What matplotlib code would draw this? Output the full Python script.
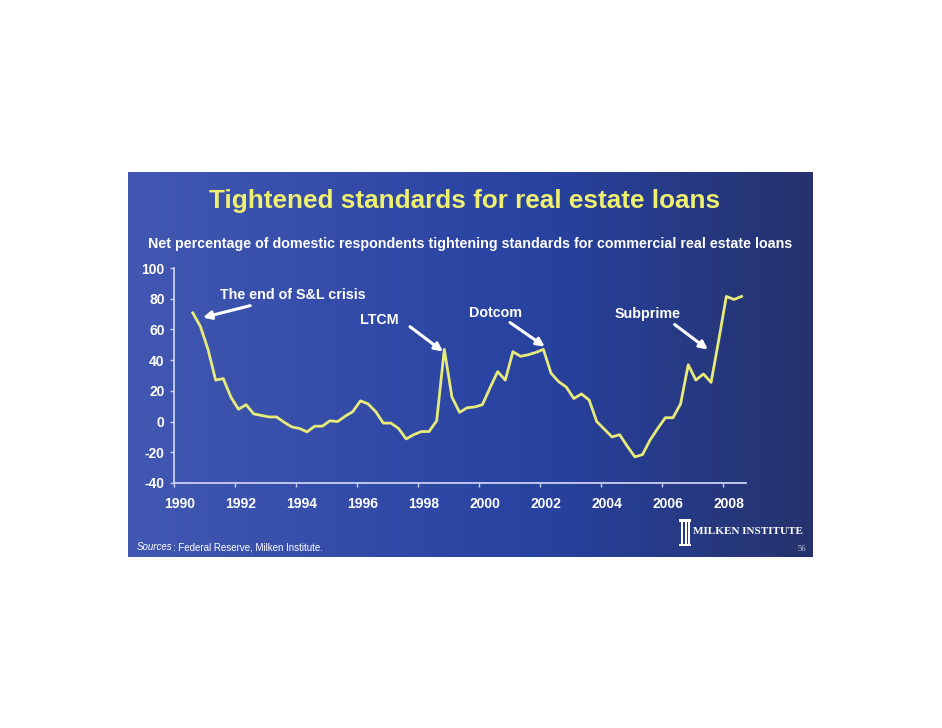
import numpy as np
import pandas as pd
import matplotlib
matplotlib.use('Agg')
import matplotlib.pyplot as plt
from matplotlib.patches import Rectangle
from matplotlib.transforms import ScaledTranslation

# quarterly survey data, 1990Q3 .. 2008Q3
quarters = pd.period_range('1990Q3', periods=73, freq='Q')
net_tightening = [70.8, 62, 47, 27, 28, 16, 8, 11, 5, 4, 3, 3, -0.5, -3.5, -4.5, -6.7,
                  -3, -3, 0.5, 0, 3.5, 6.5, 13.5, 11.5, 6.5, -1, -1, -4.5, -11.3, -8.5,
                  -6.5, -6.5, 0.5, 47, 16, 6, 9, 9.5, 11, 22, 32.5, 27, 45.5, 42.5, 43.5,
                  45, 47, 31.5, 26, 22.5, 15, 18, 14, 0, -5, -10, -8.5, -16, -23, -21.5,
                  -12, -4.5, 2.5, 2.5, 11.5, 37, 27, 31, 25.5, 53, 81.5, 79.5, 81.5]
year_ticks = [1990, 1992, 1994, 1996, 1998, 2000, 2002, 2004, 2006, 2008]
y_ticks = [-40, -20, 0, 20, 40, 60, 80, 100]

# events: label, label position, arrow tail, arrow head
events = [
    ("The end of S&L crisis", (1991.52, 82.7), (1992.51, 75.5), (1990.96, 67.7), 'left'),
    ("LTCM", (1996.73, 66.4), (1997.75, 61.8), (1998.83, 45.6), 'center'),
    ("Dotcom", (2000.57, 71.0), (2001.03, 64.5), (2002.17, 48.8), 'center'),
    ("Subprime", (2005.55, 70.3), (2006.43, 63.2), (2007.52, 46.9), 'center'),
]

x = np.array([q.year + (q.quarter - 1) / 4 + 0.125 for q in quarters])

W, H = 942, 728
plt.rcParams['font.family'] = ['Liberation Sans', 'DejaVu Sans']
plt.rcParams['axes.unicode_minus'] = False
fig = plt.figure(figsize=(W / 100, H / 100), dpi=100)
fig.patch.set_facecolor('white')

# slide background gradient
bg = fig.add_axes([128 / W, 1 - 557 / H, (813 - 128) / W, (557 - 172) / H])
c_left = np.array([66, 88, 178]) / 255
c_mid = np.array([40, 66, 160]) / 255
c_right = np.array([37, 50, 108]) / 255
t = np.linspace(0, 1, 400)[:, None]
grad = np.where(t < 0.6, c_left + (c_mid - c_left) * (t / 0.6),
                c_mid + (c_right - c_mid) * ((t - 0.6) / 0.4))
bg.imshow(grad[None, :, :], aspect='auto', extent=[0, 1, 0, 1])
bg.set_axis_off()

ax = fig.add_axes([173.7 / W, 1 - 483 / H, (746 - 173.7) / W, 215 / H])
ax.set_facecolor('none')
ax.plot(x, net_tightening, color='#e6eb7a', lw=2.0, solid_joinstyle='round')
ax.set_xlim(1990, 2008.77)
ax.set_ylim(-40, 100)

axis_col = '#c9d0f0'
for s in ['top', 'right']:
    ax.spines[s].set_visible(False)
for s in ['left', 'bottom']:
    ax.spines[s].set_color(axis_col)
    ax.spines[s].set_linewidth(1.3)
ax.set_xticks(year_ticks)
ax.set_xticklabels([str(y) for y in year_ticks])
ax.set_yticks(y_ticks)
ax.tick_params(colors=axis_col, length=3, width=1, direction='out')
ax.tick_params(axis='y', labelcolor='white', labelsize=10, pad=3.5)
ax.tick_params(axis='x', labelcolor='white', labelsize=10, pad=7)
for lab in ax.get_xticklabels() + ax.get_yticklabels():
    lab.set_fontweight('bold')
for lab in ax.get_xticklabels():
    lab.set_transform(lab.get_transform() + ScaledTranslation(6 / 100, 0, fig.dpi_scale_trans))

for label, tpos, tail, head, ha in events:
    ax.text(tpos[0], tpos[1], label, color='white', fontsize=10.3, fontweight='bold',
            ha=ha, va='center')
    ax.annotate('', xy=head, xytext=tail,
                arrowprops=dict(arrowstyle='-|>', color='white', lw=2.2,
                                mutation_scale=12, shrinkA=0, shrinkB=0))

fig.text(464.5 / W, 1 - 201 / H, "Tightened standards for real estate loans",
         color='#f0f070', fontsize=18.8, fontweight='bold', ha='center', va='center')
fig.text(148 / W, 1 - 244 / H,
         "Net percentage of domestic respondents tightening standards for commercial real estate loans",
         color='white', fontsize=10.25, fontweight='bold', ha='left', va='center')

# source line: italic "Sources" followed by plain text on the same baseline
src = fig.text(137 / W, 1 - 550 / H, "Sources", color='white', fontsize=7,
               style='italic', ha='left', va='baseline')
fig.canvas.draw()
bb = src.get_window_extent()
fig.text(bb.x1 / W, 1 - 550 / H, ": Federal Reserve, Milken Institute.", color='white',
         fontsize=7, ha='left', va='baseline')
fig.text(806 / W, 1 - 551 / H, "56", color='#c8cce0', fontsize=6,
         family='Liberation Serif', ha='right', va='baseline')

# logo
for rx, ry, rw, rh in [(679, 519, 12, 2.5), (679, 543.5, 12, 2.5),
                       (681, 521, 2, 22.5), (684.5, 521, 2, 22.5), (688, 521, 2, 22.5)]:
    fig.patches.append(Rectangle((rx / W, 1 - (ry + rh) / H), rw / W, rh / H,
                                 transform=fig.transFigure, color='white', lw=0))
fig.text(693 / W, 1 - 531 / H, "MILKEN INSTITUTE", color='white', fontsize=8,
         fontweight='bold', family='Liberation Serif', ha='left', va='center')

fig.savefig('out.png', dpi=100, facecolor='white')
